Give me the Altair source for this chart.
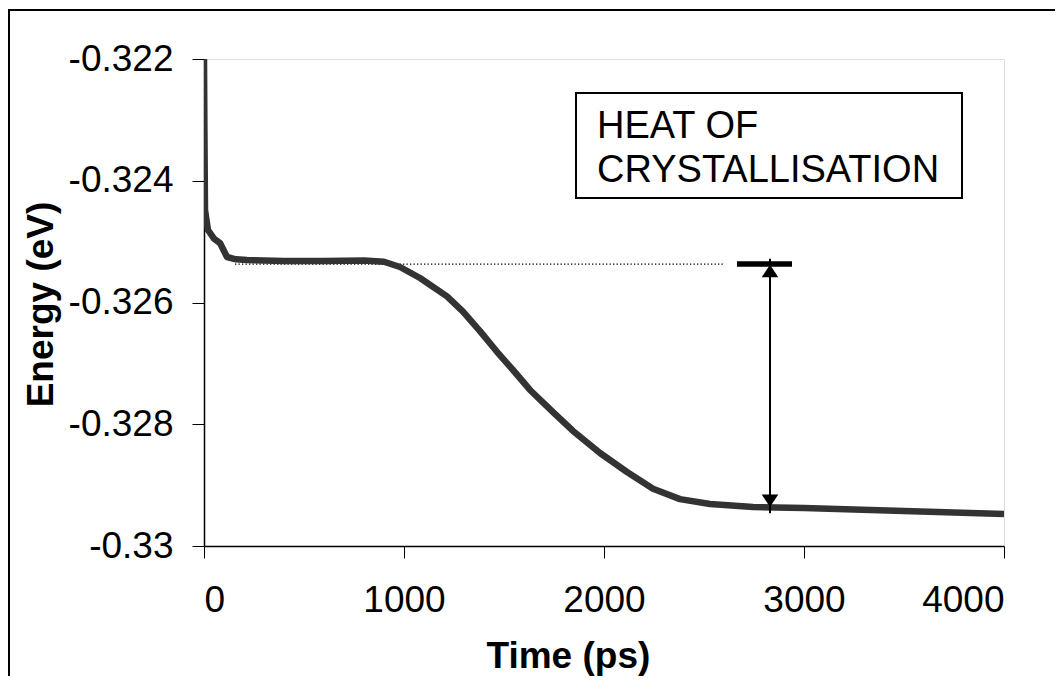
import altair as alt
import pandas as pd

# Energy trace
time_ps = [0, 2, 5, 20, 50, 80, 115, 160, 215, 400, 600, 800, 900, 980, 1080, 1215, 1295, 1380,
           1465, 1545, 1630, 1745, 1845, 1980, 2115, 2245, 2380, 2530, 2745,
           3000, 3500, 4000]
energy_ev = [-0.32200, -0.323166, -0.324480, -0.324809, -0.324950, -0.325023, -0.325253,
             -0.325290, -0.325302, -0.325318, -0.325318, -0.325310, -0.325330, -0.325417,
             -0.325598, -0.325900, -0.326150, -0.326470, -0.326810, -0.327109, -0.327437,
             -0.327800, -0.328110, -0.328472, -0.328784, -0.329060, -0.329230,
             -0.329310, -0.329359, -0.329375, -0.329425, -0.329474]

x_ticks = [0, 1000, 2000, 3000, 4000]
y_ticks = [-0.330, -0.328, -0.326, -0.324, -0.322]

# annotation values
plateau_level = -0.325368
dotted_t = [155, 2605]
bar_t = [2665, 2940]
arrow_t = 2830
arrow_top = -0.32538
arrow_bottom = -0.32936
box_t = [1860, 3790]
box_e = [-0.322559, -0.324283]
label_lines = ["HEAT OF", "CRYSTALLISATION"]
label_t = 1965
label_e = [-0.323298, -0.324021]

FONT = "Liberation Sans"

xs = alt.Scale(domain=[0, 4000], nice=False, zero=False)
ys = alt.Scale(domain=[-0.330, -0.322], nice=False, zero=False)

df = pd.DataFrame({"t": time_ps, "e": energy_ev})

xaxis = alt.Axis(values=x_ticks, format="d", title="Time (ps)", grid=False,
                 labelFont=FONT, labelFontSize=37, labelColor="black", labelPadding=24,
                 tickSize=12, tickColor="black", domainColor="black", domainWidth=1.5,
                 titleFont=FONT, titleFontSize=37, titleFontWeight="bold", titleColor="black",
                 titleX=282, titleY=121, titleAlign="left", titleBaseline="alphabetic",
                 titleAnchor="start")
yaxis = alt.Axis(values=y_ticks, labelExpr="'-' + format(abs(datum.value), '.3~f')",
                 title="Energy (eV)", grid=False,
                 labelFont=FONT, labelFontSize=37, labelColor="black", labelPadding=19,
                 tickSize=12, tickColor="black", domainColor="black", domainWidth=1.5,
                 titleFont=FONT, titleFontSize=37, titleFontWeight="bold", titleColor="black",
                 titleX=-152, titleY=245, titleAngle=270, titleAlign="center",
                 titleBaseline="alphabetic")

line = alt.Chart(df).mark_line(color="#333333", strokeWidth=6.5, clip=True,
                               strokeJoin="round").encode(
    x=alt.X("t:Q", scale=xs, axis=xaxis),
    y=alt.Y("e:Q", scale=ys, axis=yaxis),
)

dotted = alt.Chart(pd.DataFrame({"t1": [dotted_t[0]], "t2": [dotted_t[1]], "e": [plateau_level]})).mark_rule(
    color="black", strokeWidth=1.3, strokeDash=[1.3, 2.2]).encode(
    x=alt.X("t1:Q", scale=xs), x2="t2:Q", y=alt.Y("e:Q", scale=ys))

bar = alt.Chart(pd.DataFrame({"t1": [bar_t[0]], "t2": [bar_t[1]], "e": [plateau_level]})).mark_rule(
    color="black", strokeWidth=5.5).encode(
    x=alt.X("t1:Q", scale=xs), x2="t2:Q", y=alt.Y("e:Q", scale=ys))

arrow = alt.Chart(pd.DataFrame({"t": [arrow_t], "e1": [arrow_top + 0.0001], "e2": [arrow_bottom - 0.0001]})).mark_rule(
    color="black", strokeWidth=2).encode(
    x=alt.X("t:Q", scale=xs), y=alt.Y("e1:Q", scale=ys), y2="e2:Q")

head_up = alt.Chart(pd.DataFrame({"t": [arrow_t], "e": [arrow_top]})).mark_point(
    shape="M0,0L-1,1.5L1,1.5Z", filled=True, color="black", opacity=1, size=276).encode(
    x=alt.X("t:Q", scale=xs), y=alt.Y("e:Q", scale=ys))
head_down = alt.Chart(pd.DataFrame({"t": [arrow_t], "e": [arrow_bottom]})).mark_point(
    shape="M0,0L-1,-1.5L1,-1.5Z", filled=True, color="black", opacity=1, size=276).encode(
    x=alt.X("t:Q", scale=xs), y=alt.Y("e:Q", scale=ys))

box = alt.Chart(pd.DataFrame({"t1": [box_t[0]], "t2": [box_t[1]], "e1": [box_e[0]], "e2": [box_e[1]]})).mark_rect(
    fill="white", stroke="black", strokeWidth=2).encode(
    x=alt.X("t1:Q", scale=xs), x2="t2:Q", y=alt.Y("e1:Q", scale=ys), y2="e2:Q")

label = alt.Chart(pd.DataFrame({"t": [label_t] * 2, "e": label_e, "txt": label_lines})).mark_text(
    align="left", baseline="alphabetic", font=FONT, fontSize=38, color="black").encode(
    x=alt.X("t:Q", scale=xs), y=alt.Y("e:Q", scale=ys), text="txt:N")

frame_top = alt.Chart(pd.DataFrame({"k": [0]})).mark_rule(color="black", strokeWidth=2).encode(
    x=alt.value(-197), x2=alt.value(860), y=alt.value(-49))
frame_left = alt.Chart(pd.DataFrame({"k": [0]})).mark_rule(color="black", strokeWidth=2).encode(
    x=alt.value(-195), y=alt.value(-50), y2=alt.value(640))

chart = alt.layer(dotted, line, bar, arrow, head_up, head_down, box, label, frame_top, frame_left).properties(
    width=800, height=487,
    autosize=alt.AutoSizeParams(type="none"),
    padding={"left": 196, "top": 51, "right": 51, "bottom": 130},
).configure_view(stroke="#999999", strokeWidth=1.5).configure(background="white")

chart.save("out.html", embed_options={"renderer": "svg", "actions": False})
